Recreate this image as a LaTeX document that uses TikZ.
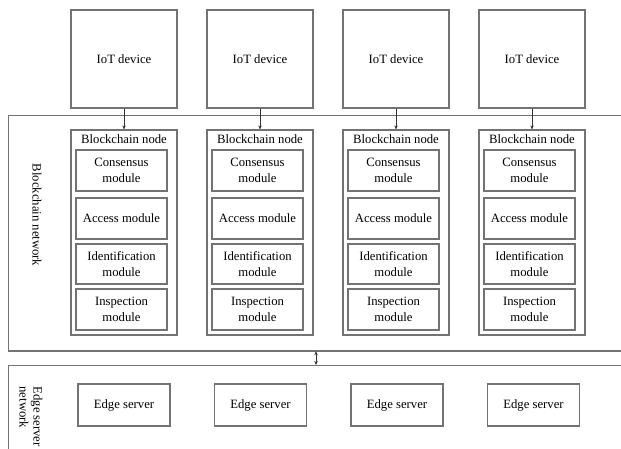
\documentclass[tikz,border=0pt]{standalone}
\usepackage{fontspec}
\setmainfont{Liberation Serif}
\usetikzlibrary{arrows.meta,calc}
\begin{document}
\begin{tikzpicture}[x=1pt,y=-1pt,
  font=\fontsize{12.7}{16}\selectfont,
  box/.style={draw=black!55, line width=1.2pt, align=center, inner sep=0pt},
  modbox/.style={box, minimum width=91pt},
  conn/.style={draw=black!80, line width=0.8pt, -{Stealth[length=4pt,width=3.5pt]}},
  dconn/.style={draw=black!80, line width=0.8pt, {Stealth[length=4pt,width=3.5pt]}-{Stealth[length=4pt,width=3.5pt]}}]
\useasboundingbox (0,0) rectangle (621,448);
\clip (0,0) rectangle (621,448);
% network frames
\node[box, anchor=north west, minimum width=625pt, minimum height=235pt] (bcnet) at (7.5,115) {};
\draw[black!55, line width=2.4pt] (bcnet.south west) -- (bcnet.south east);
\node[box, anchor=north west, minimum width=625pt, minimum height=100pt] (esnet) at (7.5,365) {};
\node[rotate=-90] (bclabel) at (37,215) {Blockchain network};
\node[rotate=-90, anchor=west, align=left, font=\fontsize{12.7}{14}\selectfont] (eslabel) at (31,383) {Edge server\\network};
\coordinate (mid) at (316,357);
\draw[dconn] (mid |- bcnet.south) -- (mid |- esnet.north);
\foreach \i in {0,1,2,3}{
  \pgfmathsetmacro{\cx}{124+136*\i}
  \pgfmathsetmacro{\ex}{124+136.5*\i}
  \pgfmathsetmacro{\mx}{\cx-2.5}
  \node[box, minimum width=106pt, minimum height=98pt] (iot\i) at (\cx,59) {IoT device};
  \node[box, minimum width=106pt, minimum height=205pt] (bn\i) at (\cx,232.5) {};
  \node (bnl\i) at ($(bn\i.north)+(0,10)$) {Blockchain node};
  \node[modbox, minimum height=41pt] (cons\i) at (\mx,170.5) {Consensus\\module};
  \node[modbox, minimum height=41pt] (acc\i) at (\mx,218.5) {Access module};
  \node[modbox, minimum height=40pt] (ident\i) at (\mx,264) {Identification\\module};
  \node[modbox, minimum height=41pt] (insp\i) at (\mx,309.5) {Inspection\\module};
  \draw[conn] (iot\i) -- (bn\i);
  \node[box, minimum width=92pt, minimum height=42pt] (es\i) at (\ex,405) {Edge server};
}
\end{tikzpicture}
\end{document}
